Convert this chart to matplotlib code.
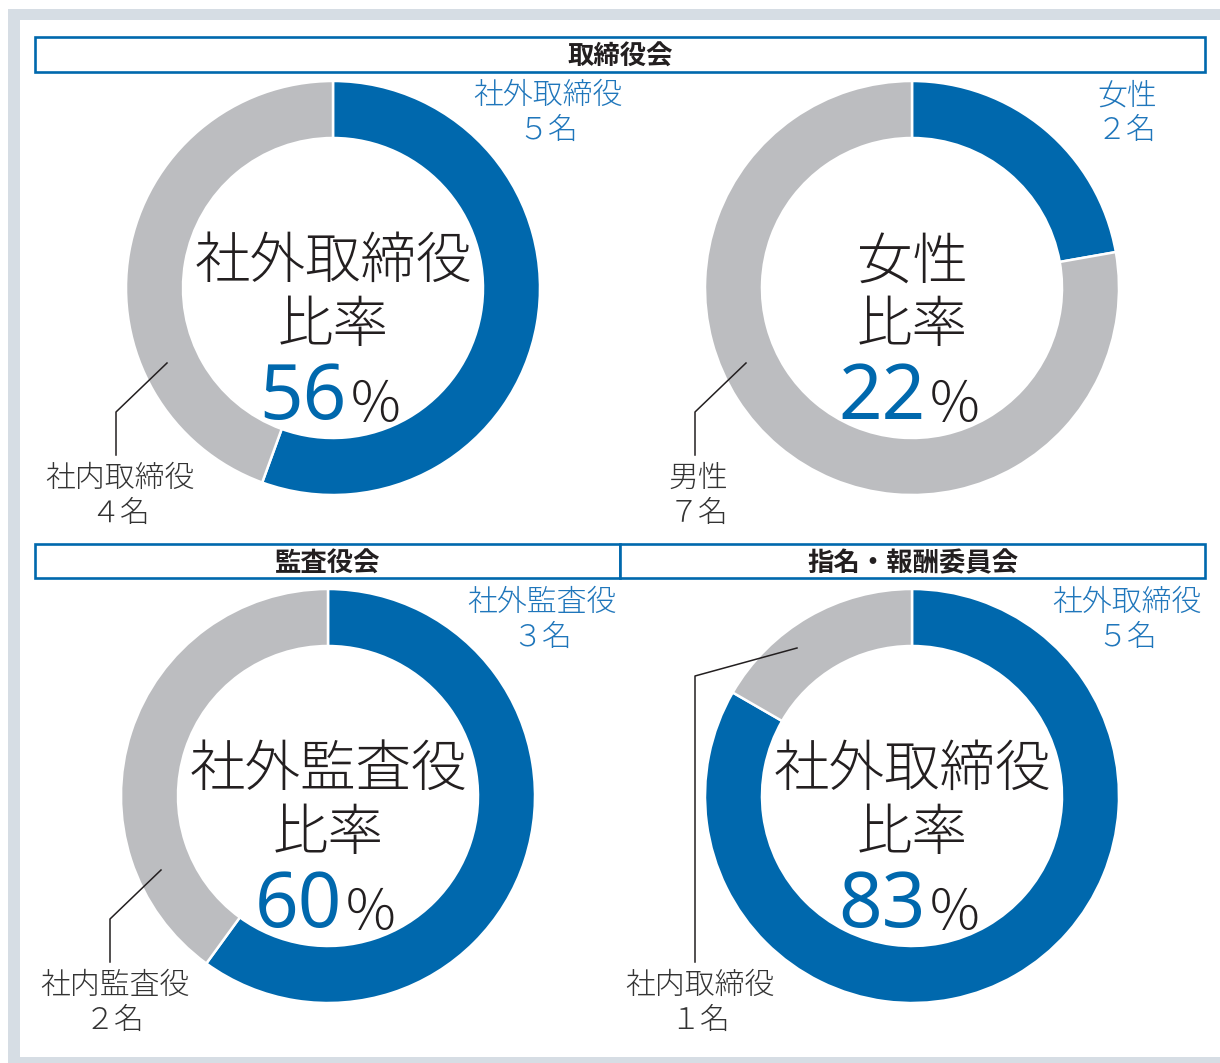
import matplotlib
matplotlib.use('Agg')
import matplotlib.pyplot as plt
from matplotlib.patches import Rectangle

plt.rcParams['font.family'] = ['Noto Sans CJK JP', 'DejaVu Sans']

# --- data ---
panel_titles = ['取締役会', '監査役会', '指名・報酬委員会']
center_titles = ['社外取締役', '女性', '社外監査役', '社外取締役']
main_labels = ['社外取締役', '女性', '社外監査役', '社外取締役']
main_counts = [5, 2, 3, 5]
other_labels = ['社内取締役', '男性', '社内監査役', '社内取締役']
other_counts = [4, 7, 2, 1]
percents = [56, 22, 60, 83]

BLUE = '#0068ad'
LBLUE = '#1f76bb'
GRAY = '#bcbdc0'
DARK = '#231f20'
FRAME = '#d6dde4'

W, H = 1220, 1063
fig = plt.figure(figsize=(W / 100, H / 100), dpi=100)
ax = fig.add_axes([0, 0, 1, 1])

# outer light frame
ax.add_patch(Rectangle((8, 9), W, H, facecolor=FRAME, edgecolor='none', zorder=0))
ax.add_patch(Rectangle((20, 20), W, 1037, facecolor='white', edgecolor='none', zorder=0))

# header boxes
boxes = [(35, 37, 1170, 35), (35, 544, 585, 34), (620, 544, 585, 34)]
for (x, y, w, h), t in zip(boxes, panel_titles):
    ax.add_patch(Rectangle((x, y), w, h, facecolor='white', edgecolor=BLUE, linewidth=1.9, zorder=2))
    ax.text(x + w / 2, y + h / 2 + 3, t, ha='center', va='center', fontsize=19,
            fontweight='bold', color=DARK, zorder=3)

full = str.maketrans('0123456789', '０１２３４５６７８９')

centers = [(333, 288), (912, 288), (328, 796), (912, 796)]
# leader lines: (start inside ring, elbow, bottom end)
leaders = [[(167, 363), (116, 412), (116, 455)],
           [(746, 363), (695, 412), (695, 455)],
           [(161, 870), (110, 919), (110, 962)],
           [(797, 648), (695, 676), (695, 962)]]
main_pos = [(548, 96), (1127, 96), (542, 603), (1127, 603)]
other_pos = [(120, 479), (698, 479), (115, 986), (700, 986)]

R = 207
for i, (cx, cy) in enumerate(centers):
    ax.pie([main_counts[i], other_counts[i]], center=(cx, cy), radius=R,
           colors=[BLUE, GRAY], startangle=-90, counterclock=True, frame=True,
           wedgeprops=dict(width=57, edgecolor='white', linewidth=1.8))

    # center text
    ax.text(cx, cy - 26, center_titles[i], ha='center', va='center', fontsize=40,
            fontweight='light', color=DARK)
    ax.text(cx, cy + 38, '比率', ha='center', va='center', fontsize=40,
            fontweight='light', color=DARK)
    ax.text(cx + 14, cy + 131, str(percents[i]), ha='right', va='baseline',
            fontsize=55, family=['Noto Sans', 'DejaVu Sans'], fontweight='medium', color=BLUE)
    ax.text(cx + 15, cy + 134, '％', ha='left', va='baseline', fontsize=40,
            fontweight='light', color=DARK)

    # labels
    mx, my = main_pos[i]
    ax.text(mx, my, main_labels[i], ha='center', va='center', fontsize=21.5,
            fontweight='light', color=LBLUE)
    ax.text(mx, my + 35, str(main_counts[i]).translate(full) + '名', ha='center',
            va='center', fontsize=21.5, fontweight='light', color=LBLUE)
    ox, oy = other_pos[i]
    ax.text(ox, oy, other_labels[i], ha='center', va='center', fontsize=21.5,
            fontweight='light', color='#333333')
    ax.text(ox, oy + 35, str(other_counts[i]).translate(full) + '名', ha='center',
            va='center', fontsize=21.5, fontweight='light', color='#333333')

    xs = [p[0] for p in leaders[i]]
    ys = [p[1] for p in leaders[i]]
    ax.plot(xs, ys, color=DARK, linewidth=1.1, zorder=4)

ax.set_xlim(0, W)
ax.set_ylim(H, 0)
ax.set_aspect('equal')
ax.axis('off')
fig.savefig('out.png', dpi=100)
